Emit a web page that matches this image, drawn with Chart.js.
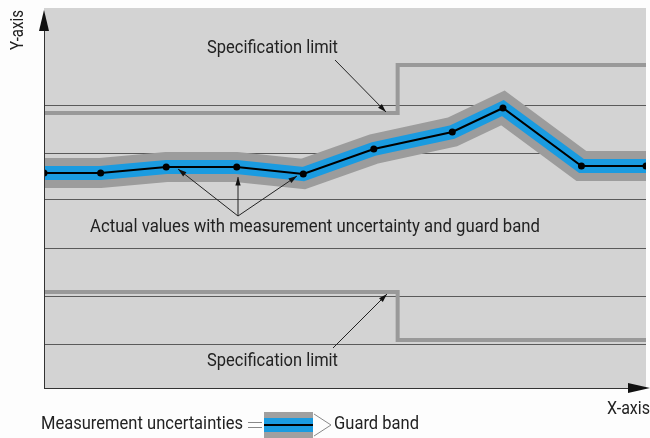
<!DOCTYPE html><html><head><meta charset="utf-8">
<script src="https://cdn.jsdelivr.net/npm/chart.js@4/dist/chart.umd.min.js"></script>
<style>html,body{margin:0;background:#fdfdfd}#w{width:650px;height:438px}</style></head><body><div id="w"><canvas id="c"></canvas></div>
<script>
const xVals=[44,101,167,238,305,376,455,506,585,650];
const actual=[215,215,221,221,214,239,256,280,222,222];
const upperX=[44,400,400,650];const upperY=[275,275,323,323];
const lowerX=[44,400,400,650];const lowerY=[96,96,48,48];
const gridVals=[44,92,140,189,235,283];
const FONT="'Roboto',sans-serif";
const pts=(xs,ys)=>xs.map((x,i)=>({x,y:ys[i]}));
const deco={id:'deco',
beforeDraw(ch){const {ctx,chartArea:a,scales:{x,y}}=ch;ctx.save();
ctx.fillStyle='#d3d3d3';ctx.fillRect(a.left,a.top,a.right-a.left,a.bottom-a.top);
ctx.strokeStyle='#5a5a5a';ctx.lineWidth=1;
gridVals.forEach(v=>{const p=Math.round(y.getPixelForValue(v))+0.5;ctx.beginPath();ctx.moveTo(a.left,p);ctx.lineTo(a.right,p);ctx.stroke();});
ctx.restore();},
afterDraw(ch){const {ctx,chartArea:a}=ch;ctx.save();
ctx.strokeStyle='#333';ctx.fillStyle='#111';ctx.lineWidth=1;
ctx.beginPath();ctx.moveTo(a.left+0.5,a.bottom);ctx.lineTo(a.left+0.5,30);ctx.moveTo(a.left,a.bottom+0.5);ctx.lineTo(632,a.bottom+0.5);ctx.stroke();
ctx.beginPath();ctx.moveTo(a.left,10);ctx.lineTo(39,31);ctx.lineTo(49,31);ctx.closePath();ctx.fill();
ctx.beginPath();ctx.moveTo(650,a.bottom);ctx.lineTo(628,a.bottom-5);ctx.lineTo(628,a.bottom+5);ctx.closePath();ctx.fill();
function arrow(x1,y1,x2,y2){ctx.beginPath();ctx.moveTo(x1,y1);ctx.lineTo(x2,y2);ctx.stroke();const an=Math.atan2(y2-y1,x2-x1);ctx.beginPath();ctx.moveTo(x2,y2);ctx.lineTo(x2-9*Math.cos(an-0.3),y2-9*Math.sin(an-0.3));ctx.lineTo(x2-9*Math.cos(an+0.3),y2-9*Math.sin(an+0.3));ctx.closePath();ctx.fill();}
ctx.strokeStyle='#222';
arrow(335,60,386,112);arrow(238,216,178,169);arrow(238,216,238,177);arrow(238,216,297,176);arrow(333,348,387,294);
ctx.font='19px '+FONT;ctx.fillStyle='#222';ctx.textBaseline='middle';ctx.textAlign='left';
function fit(t,x1,x2,yy){const w=ctx.measureText(t).width;ctx.save();ctx.translate(x1,yy);ctx.scale((x2-x1)/w,1);ctx.fillText(t,0,0);ctx.restore();}
fit('Specification limit',207,338,48);
fit('Actual values with measurement uncertainty and guard band',90,540,227);
fit('Specification limit',207,338,361);
fit('X-axis',607,650,409);
fit('Measurement uncertainties',41,243,424);
fit('Guard band',334,419,424);
ctx.save();ctx.translate(18,10);ctx.rotate(-Math.PI/2);ctx.font='18px '+FONT;const w=ctx.measureText('Y-axis').width;ctx.scale(40/w,1);ctx.fillText('Y-axis',-w,0);ctx.restore();
ctx.fillStyle='#a0a0a0';ctx.fillRect(264,412,49,26);ctx.fillStyle='#1a9be0';ctx.fillRect(264,418,49,14);ctx.fillStyle='#000';ctx.fillRect(264,424,49,2);
ctx.strokeStyle='#888';ctx.beginPath();ctx.moveTo(248,422.5);ctx.lineTo(262,422.5);ctx.moveTo(248,427.5);ctx.lineTo(262,427.5);
ctx.moveTo(314,414);ctx.lineTo(331,425);ctx.lineTo(314,436);ctx.stroke();
ctx.restore();}};
new Chart(document.getElementById('c'),{type:'line',
data:{datasets:[
{data:pts(xVals,actual),borderColor:'#9c9c9c',borderWidth:30,pointRadius:0,order:5},
{data:pts(xVals,actual),borderColor:'#1a9be0',borderWidth:14,pointRadius:0,order:4},
{data:pts(xVals,actual),borderColor:'#000',borderWidth:2,pointRadius:3.5,pointBackgroundColor:'#000',pointBorderWidth:0,order:1},
{data:pts(upperX,upperY),borderColor:'#999',borderWidth:4,pointRadius:0,order:3},
{data:pts(lowerX,lowerY),borderColor:'#999',borderWidth:4,pointRadius:0,order:3}
]},
options:{responsive:true,maintainAspectRatio:false,animation:false,events:[],
layout:{padding:{left:44,top:8,right:0,bottom:50}},
plugins:{legend:{display:false},tooltip:{enabled:false}},
elements:{line:{tension:0,borderJoinStyle:'miter',borderCapStyle:'butt'}},
scales:{x:{type:'linear',min:44,max:650,display:false},y:{min:0,max:380,display:false}}},
plugins:[deco]});
</script></body></html>
